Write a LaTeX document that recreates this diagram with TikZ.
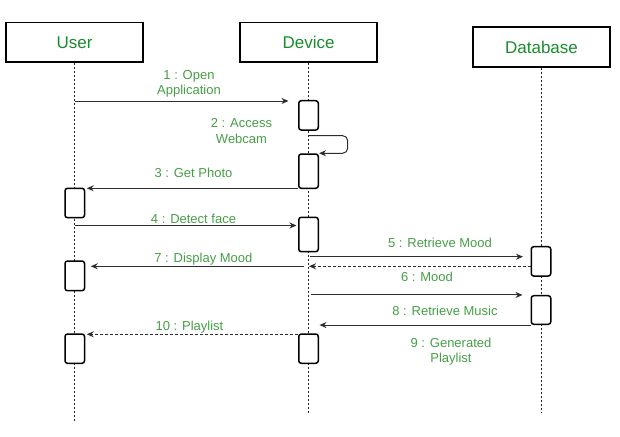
\documentclass[tikz,border=0pt]{standalone}
\usepackage{fontspec}
\setmainfont{Liberation Sans}
\usepackage{tikz}
\usetikzlibrary{arrows.meta,calc}
\definecolor{titlegreen}{RGB}{25,140,45}
\definecolor{labelgreen}{RGB}{70,158,70}
\definecolor{arrowgray}{RGB}{45,45,45}

\begin{document}
\begin{tikzpicture}[x=1pt,y=-1pt,
	head/.style={draw=black, line width=1.6pt, minimum width=137pt, minimum height=39.5pt, inner sep=0pt, text=titlegreen, font=\fontsize{17}{20}\selectfont},
	act/.style={draw=black, line width=1.5pt, fill=white, rounded corners=2.5pt, minimum width=19.5pt, inner sep=0pt},
	life/.style={draw=black!85, line width=0.7pt, dash pattern=on 2pt off 2pt},
	msg/.style={draw=arrowgray, line width=1pt, -{Stealth[length=7pt,width=6pt]}},
	reply/.style={msg, dash pattern=on 3pt off 2pt},
	lbl/.style={text=labelgreen, font=\fontsize{13}{15.5}\selectfont, align=center, inner sep=0pt}]
		
		\useasboundingbox (0,0) rectangle (620,436);
		
		\node[head] (user) at (74.5,42.25) {User};
		\node[head] (device) at (308.5,42.25) {Device};
		\node[head] (database) at (541.5,47) {Database};
		
		\coordinate (userend) at (74.5,421.7);
		\coordinate (deviceend) at (308.5,413);
		\coordinate (databaseend) at (541.5,413);
		\draw[life] (user.south) -- (userend);
		\draw[life] (device.south) -- (deviceend);
		\draw[life] (database.south) -- (databaseend);
		
		\node[act, minimum height=29.3pt] (d1) at (308.5,115.35) {};
		\node[act, minimum height=34.3pt] (d2) at (308.5,171.15) {};
		\node[act, minimum height=29.4pt] (u1) at (74.75,203) {};
		\node[act, minimum height=34.4pt] (d3) at (308.5,234.5) {};
		\node[act, minimum height=29.3pt] (db1) at (541,261.35) {};
		\node[act, minimum height=29.7pt] (u2) at (74.75,275.85) {};
		\node[act, minimum height=28.6pt] (db2) at (541,310) {};
		\node[act, minimum height=29.3pt] (u3) at (74.75,348.65) {};
		\node[act, minimum height=29.3pt] (d4) at (308.5,348.65) {};
		
		\coordinate (r1) at (0,101);
		\coordinate (r2) at (0,135.7);
		\coordinate (r3) at (0,188.3);
		\coordinate (r4) at (0,225.5);
		\coordinate (r5) at (0,256.7);
		\coordinate (r6) at (0,266.3);
		\coordinate (r10) at (0,334.3);
		
		\draw[msg, shorten >=9.5pt] (user.south |- r1) -- (d1.west |- r1);
		\draw[msg, rounded corners=5pt] (device.south |- r2) -- ++(39.2,0) |- (d2.north east);
		\draw[msg, shorten >=1.5pt] (d2.west |- r3) -- (u1.east |- r3);
		\draw[msg, shorten >=1.5pt] (user.south |- r4) -- (d3.west |- r4);
		\draw[msg, shorten <=1.5pt, shorten >=7.5pt] (device.south |- r5) -- (db1.west |- r5);
		\draw[reply, shorten >=0.5pt] (db1.west |- r6) -- (device.south |- r6);
		\draw[msg, shorten <=5pt, shorten >=5.5pt] (device.south |- r6) -- (u2.east |- r6);
		\draw[msg, shorten <=2pt, shorten >=8pt] (device.south |- db2.north west) -- (db2.north west);
		\draw[msg, shorten >=11pt] (db2.south west) -- (device.south |- db2.south west);
		\draw[reply, shorten >=1.5pt] (d4.west |- r10) -- (u3.east |- r10);
		
		\node[lbl] (l1) at (189,83.9) {1 : Open\\Application};
		\node[lbl] (l2) at (241.5,130.8) {2 : Access\\Webcam};
		\node[lbl] (l3) at (193.5,173.3) {3 : Get Photo};
		\node[lbl] (l4) at (193.5,219) {4 : Detect face};
		\node[lbl] (l5) at (440,243) {5 : Retrieve Mood};
		\node[lbl] (l6) at (427,277.3) {6 : Mood};
		\node[lbl] (l7) at (203.4,259.3) {7 : Display Mood};
		\node[lbl] (l8) at (445,311) {8 : Retrieve Music};
		\node[lbl] (l9) at (451,351.5) {9 : Generated\\Playlist};
		\node[lbl] (l10) at (189.5,327) {10 : Playlist};
		
	\end{tikzpicture}
\end{document}
